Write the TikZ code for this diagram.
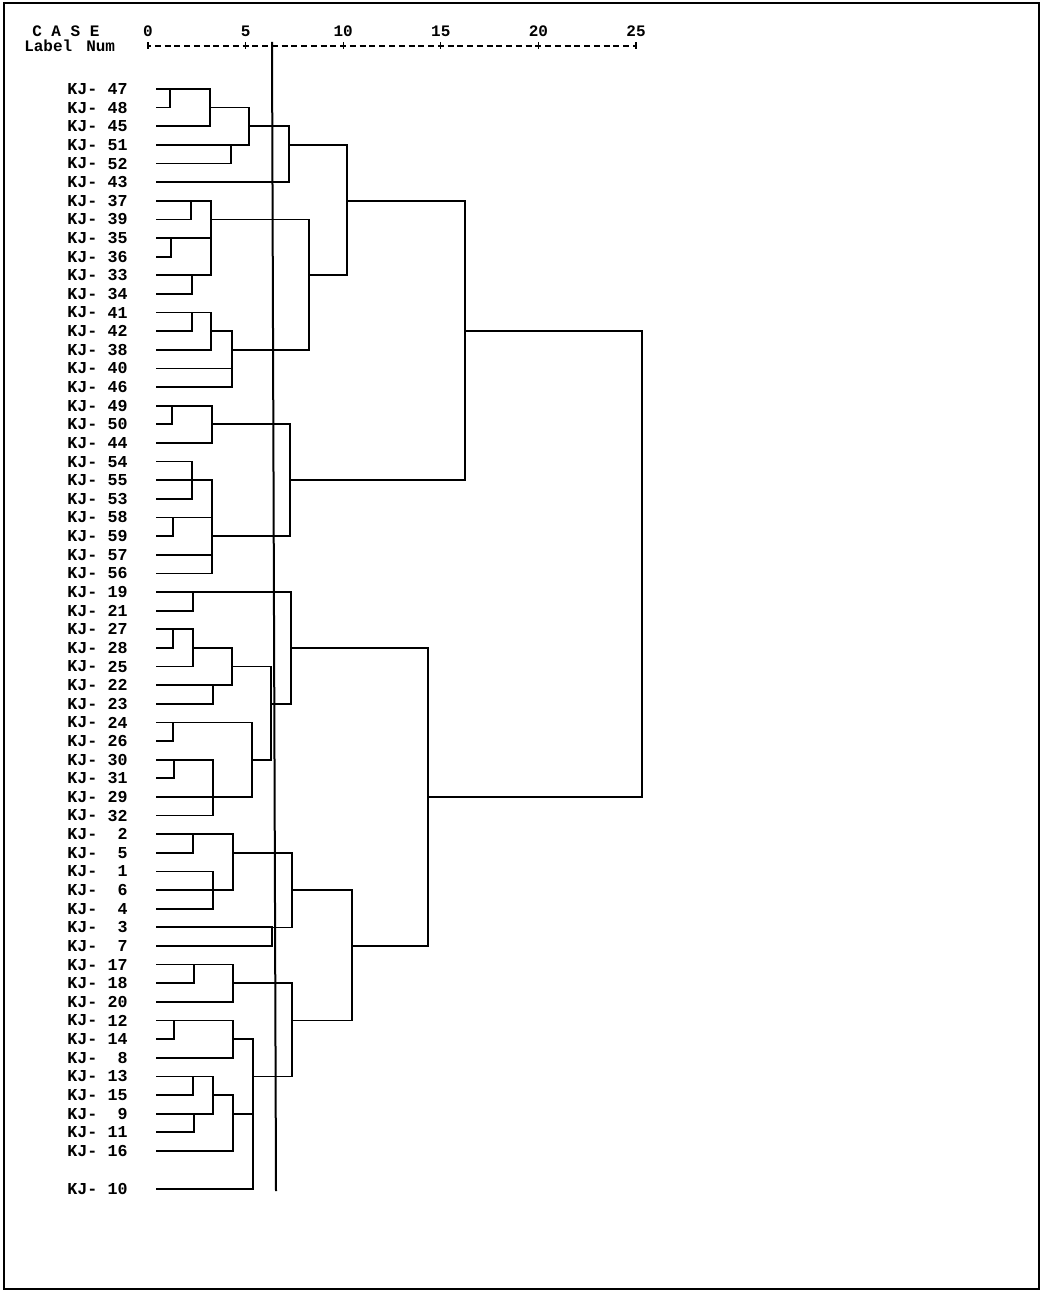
\documentclass[tikz,border=0pt]{standalone}
\usepackage{fontspec}
\usetikzlibrary{calc}
\newfontfamily\monofam{Liberation Mono}
\newcommand\lblfont{\monofam\bfseries\fontsize{12.5}{14}\selectfont}
\newcommand\hdrfont{\monofam\bfseries\fontsize{12}{13}\selectfont}
\tikzset{
  dl/.style={line width=1.3pt, line cap=rect},
  cutline/.style={line width=1.5pt},
  axisline/.style={line width=1pt, dash pattern=on 4.5pt off 2.82pt, dash phase=2.25pt},
  tick/.style={line width=1pt},
  frame/.style={line width=1pt},
  lbl/.style={font=\lblfont, inner sep=0pt, anchor=west},
  num/.style={font=\lblfont, inner sep=0pt, anchor=east},
  hdr/.style={font=\hdrfont, inner sep=0pt},
}
\newcommand\dmerge[6]{%
  \coordinate (#1) at (#2,#3);
  \foreach \ch in {#6} {\draw[dl] (\ch) -- (\ch -| #1);}
  \draw[dl] (#4 -| #1) -- (#5 -| #1);
}
\begin{document}
\begin{tikzpicture}[x=0.75pt,y=-0.75pt]
\useasboundingbox (0,0) rectangle (1045,1291);
\fill[white] (0,0) rectangle (1045,1291);
\draw[frame] (4,3) rectangle (1039,1289);

% header
\node[hdr, anchor=west] (hcase) at (32,31) {C A S E};
\node[hdr, anchor=west] (hlabel) at (24,46) {Label};
\node[hdr, anchor=west] (hnum) at (86,46) {Num};
\foreach \v [count=\j from 0] in {0,5,10,15,20,25} {
  \coordinate (ax\j) at ({148+97.6*\j},46);
  \node[hdr] (hv\j) at ({148+97.6*\j},31) {\v};
  \draw[tick] ($(ax\j)+(0,-3.5)$) -- ($(ax\j)+(0,3.5)$);
}
\draw[axisline] (ax0) -- (ax5);

% leaves
\foreach \lab [count=\i from 0] in {47,48,45,51,52,43,37,39,35,36,33,34,41,42,38,40,46,49,50,44,54,55,53,58,59,57,56,19,21,27,28,25,22,23,24,26,30,31,29,32,2,5,1,6,4,3,7,17,18,20,12,14,8,13,15,9,11,16}{
  \pgfmathsetmacro\yy{89+18.63*\i}
  \node[lbl] (t\lab) at (67,\yy) {KJ-};
  \node[num] (n\lab) at (128,\yy) {\lab};
  \coordinate (k\lab) at (157,\yy);
}
\node[lbl] (t10) at (67,1189) {KJ-};
\node[num] (n10) at (128,1189) {10};
\coordinate (k10) at (157,1189);

% cluster A
\dmerge{a1}{170}{89.0}{k47}{k48}{k47,k48}
\dmerge{a2}{210}{107.6}{a1}{k45}{a1,k45}
\dmerge{a3}{231}{144.9}{k51}{k52}{k51,k52}
\dmerge{a4}{249}{126.3}{a2}{a3}{a2,a3}
\dmerge{a5}{289}{144.9}{a4}{k43}{a4,k43}
% cluster B
\dmerge{b1}{191}{200.8}{k37}{k39}{k37,k39}
\dmerge{b2}{171}{238.0}{k35}{k36}{k35,k36}
\dmerge{b3}{192}{275.3}{k33}{k34}{k33,k34}
\dmerge{b4}{211}{219.4}{b1}{b3}{b1,b2,b3}
% cluster C
\dmerge{c1}{192}{312.6}{k41}{k42}{k41,k42}
\dmerge{c2}{211}{331.2}{c1}{k38}{c1,k38}
\dmerge{c3}{232}{349.8}{c2}{k46}{c2,k40,k46}
\dmerge{bc}{309}{275.3}{b4}{c3}{b4,c3}
\dmerge{abc}{347}{200.8}{a5}{bc}{a5,bc}
% cluster D, E
\dmerge{d1}{172}{405.7}{k49}{k50}{k49,k50}
\dmerge{d2}{212}{424.3}{d1}{k44}{d1,k44}
\dmerge{e1}{192}{480.2}{k54}{k53}{k54,k55,k53}
\dmerge{e2}{173}{517.5}{k58}{k59}{k58,k59}
\dmerge{e3}{212}{536.1}{e1}{k56}{e1,e2,k57,k56}
\dmerge{de}{290}{480.2}{d2}{e3}{d2,e3}
\dmerge{upper}{465}{331.2}{abc}{de}{abc,de}
% cluster F
\dmerge{f1}{193}{592.0}{k19}{k21}{k19,k21}
\dmerge{f2}{173}{629.3}{k27}{k28}{k27,k28}
\dmerge{f3}{193}{647.9}{f2}{k25}{f2,k25}
\dmerge{f4}{213}{685.2}{k22}{k23}{k22,k23}
\dmerge{f5}{232}{666.5}{f3}{f4}{f3,f4}
\dmerge{f6}{173}{722.4}{k24}{k26}{k24,k26}
\dmerge{f7}{174}{759.7}{k30}{k31}{k30,k31}
\dmerge{f8}{213}{796.9}{f7}{k32}{f7,k29,k32}
\dmerge{f9}{252}{759.7}{f6}{f8}{f6,f8}
\dmerge{f10}{271}{703.8}{f5}{f9}{f5,f9}
\dmerge{f11}{291}{647.9}{f1}{f10}{f1,f10}
% cluster G
\dmerge{g1}{193}{834.2}{k2}{k5}{k2,k5}
\dmerge{g2}{213}{890.1}{k1}{k4}{k1,k6,k4}
\dmerge{g3}{233}{852.8}{g1}{g2}{g1,g2}
\dmerge{g4}{272}{927.4}{k3}{k7}{k3,k7}
\dmerge{g5}{292}{890.1}{g3}{g4}{g3,g4}
% cluster H
\dmerge{h1}{194}{964.6}{k17}{k18}{k17,k18}
\dmerge{h2}{233}{983.3}{h1}{k20}{h1,k20}
\dmerge{h3}{174}{1020.5}{k12}{k14}{k12,k14}
\dmerge{h4}{233}{1039.1}{h3}{k8}{h3,k8}
\dmerge{h5}{193}{1076.4}{k13}{k15}{k13,k15}
\dmerge{h6}{194}{1113.7}{k9}{k11}{k9,k11}
\dmerge{h7}{213}{1095.0}{h5}{h6}{h5,h6}
\dmerge{h8}{233}{1113.7}{h7}{k16}{h7,k16}
\dmerge{h9}{253}{1076.4}{h4}{k10}{h4,h8,k10}
\dmerge{h10}{292}{1020.5}{h2}{h9}{h2,h9}
\dmerge{gh}{352}{946.0}{g5}{h10}{g5,h10}
\dmerge{fgh}{428}{796.9}{f11}{gh}{f11,gh}
\dmerge{root}{642}{564.0}{upper}{fgh}{upper,fgh}

% cut-off line
\coordinate (cutT) at (272,42);
\coordinate (cutB) at (276,1191);
\draw[cutline] (cutT) -- (cutB);
\end{tikzpicture}
\end{document}
